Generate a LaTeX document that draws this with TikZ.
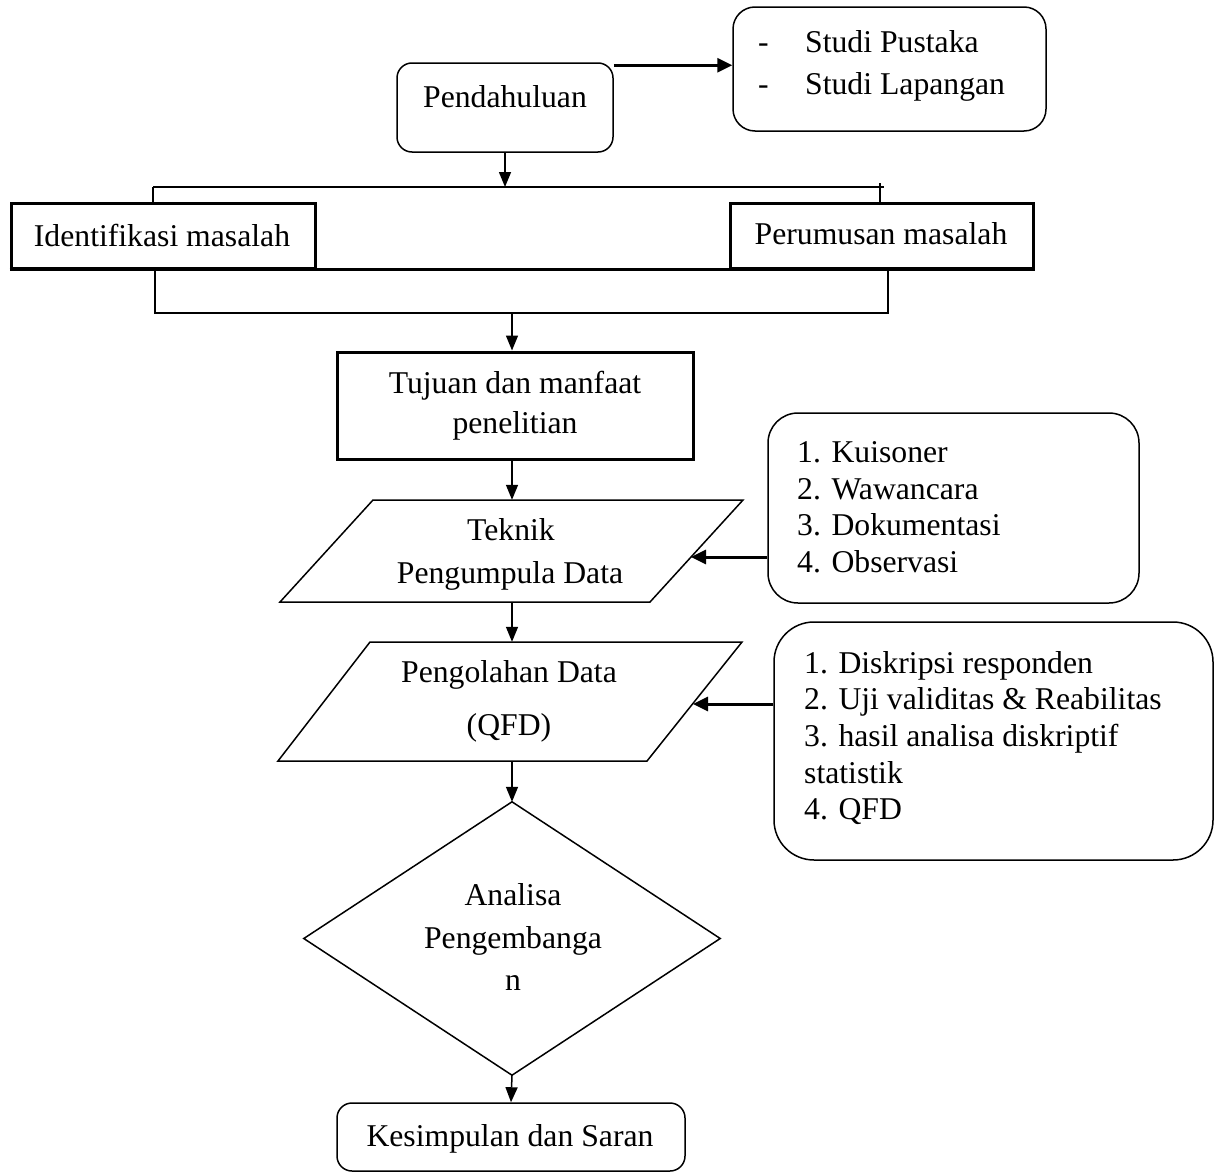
\documentclass[tikz,border=0pt]{standalone}
\usepackage{fontspec}
\setmainfont{Liberation Serif}
\usetikzlibrary{arrows.meta,calc}
\begin{document}
\begin{tikzpicture}[x=1pt,y=-1pt,
  font=\fontsize{31.7}{38}\selectfont,
  line join=miter,
  shapebox/.style={draw,line width=1.5pt,inner sep=0pt,anchor=center},
  thickbox/.style={draw,line width=3pt,inner sep=0pt,anchor=center},
  ghost/.style={inner sep=0pt,anchor=center},
  txt/.style={inner sep=0pt,anchor=base},
  ltxt/.style={inner sep=0pt,anchor=base west},
  arr/.style={line width=1.5pt,-{Triangle[length=15pt,width=12pt]}},
  barr/.style={line width=3pt,-{Triangle[length=15pt,width=14pt]}},
  conn/.style={line width=1.5pt}]
\useasboundingbox (0,0) rectangle (1223,1175);

% boxes
\node[shapebox,rounded corners=15pt,minimum width=216pt,minimum height=89pt] (pend) at (505,107.5) {};
\node[shapebox,rounded corners=22pt,minimum width=313pt,minimum height=124pt] (studi) at (889.5,69) {};
\node[thickbox,minimum width=304pt,minimum height=65pt] (iden) at (163,235.5) {};
\node[thickbox,minimum width=303pt,minimum height=65pt] (peru) at (881.5,235.5) {};
\node[thickbox,minimum width=356pt,minimum height=107pt] (tuj) at (515,405.5) {};
\node[shapebox,rounded corners=30pt,minimum width=371pt,minimum height=190pt] (kuis) at (953.5,508) {};
\node[shapebox,rounded corners=40pt,minimum width=439pt,minimum height=238pt] (diskr) at (993.5,741) {};
\node[shapebox,rounded corners=15pt,minimum width=348pt,minimum height=68pt] (kes) at (511,1137) {};

% parallelograms
\node[ghost,minimum width=370pt,minimum height=102pt] (tek) at (511.5,551) {};
\draw[line width=1.5pt] (373,500) -- (743,500) -- (650,602) -- (280,602) -- cycle;
\node[ghost,minimum width=372pt,minimum height=119pt] (peng) at (509.5,701.5) {};
\draw[line width=1.5pt] (370,642) -- (742,642) -- (647,761) -- (278,761) -- cycle;
\coordinate (tekR) at (691,557);
\coordinate (pengR) at (693,704);

% diamond
\node[ghost,minimum width=416pt,minimum height=273pt] (ana) at (512,938.5) {};
\draw[line width=1.5pt] (ana.north) -- (ana.east) -- (ana.south) -- (ana.west) -- cycle;

% texts
\node[txt] (tpend) at (505,107) {Pendahuluan};
\node[ltxt] (ts1) at (758,52) {\makebox[47pt][l]{-}Studi Pustaka};
\node[ltxt] (ts2) at (758,94) {\makebox[47pt][l]{-}Studi Lapangan};
\node[txt] (tiden) at (162,246) {Identifikasi masalah};
\node[txt] (tperu) at (881,244) {Perumusan masalah};
\node[txt] (ttuj1) at (515,393) {Tujuan dan manfaat};
\node[txt] (ttuj2) at (515,433) {penelitian};
\node[txt] (ttek1) at (511,540) {Teknik};
\node[txt] (ttek2) at (510,583) {Pengumpula Data};
\node[ltxt] (tk1) at (797,462) {1. Kuisoner};
\node[ltxt] (tk2) at (797,499) {2. Wawancara};
\node[ltxt] (tk3) at (797,535) {3. Dokumentasi};
\node[ltxt] (tk4) at (797,572) {4. Observasi};
\node[txt] (tpeng1) at (509,682) {Pengolahan Data};
\node[txt] (tpeng2) at (509,735) {(QFD)};
\node[ltxt] (td1) at (804,673) {1. Diskripsi responden};
\node[ltxt] (td2) at (804,709) {2. Uji validitas \& Reabilitas};
\node[ltxt] (td3) at (804,746) {3. hasil analisa diskriptif};
\node[ltxt] (td4) at (804,783) {statistik};
\node[ltxt] (td5) at (804,819) {4. QFD};
\node[txt] (tana1) at (513,905) {Analisa};
\node[txt] (tana2) at (513,948) {Pengembanga};
\node[txt] (tana3) at (513,990) {n};
\node[txt] (tkes) at (510,1146) {Kesimpulan dan Saran};

% connectors
\coordinate (top) at (505,187);
\coordinate (bl) at (153,187);
\coordinate (br) at (880,187);
\coordinate (axis) at (512,313);
\coordinate (lb) at (155,313);
\coordinate (rb) at (888,313);

\draw[barr] ([yshift=-3pt]pend.north east) -- ([yshift=-3pt]pend.north east -| studi.west);
\draw[arr] (pend.south) -- (top);
\draw[conn] (bl) -- (884,187);
\draw[conn] (bl) -- (bl |- iden.north);
\draw[conn] (880,183) -- (br |- peru.north);
\draw[line width=3pt] (iden.south west) -- (peru.south east);
\draw[conn] (lb |- iden.south) -- (lb) -- (rb) -- (rb |- peru.south);
\draw[arr] (axis) -- (axis |- tuj.north);
\draw[arr] (axis |- tuj.south) -- (axis |- tek.north);
\draw[barr] (kuis.west |- tekR) -- (tekR);
\draw[arr] (axis |- tek.south) -- (axis |- peng.north);
\draw[barr] (diskr.west |- pengR) -- (pengR);
\draw[arr] (axis |- peng.south) -- (ana.north);
\draw[arr] (ana.south) -- (kes.north);
\end{tikzpicture}
\end{document}
